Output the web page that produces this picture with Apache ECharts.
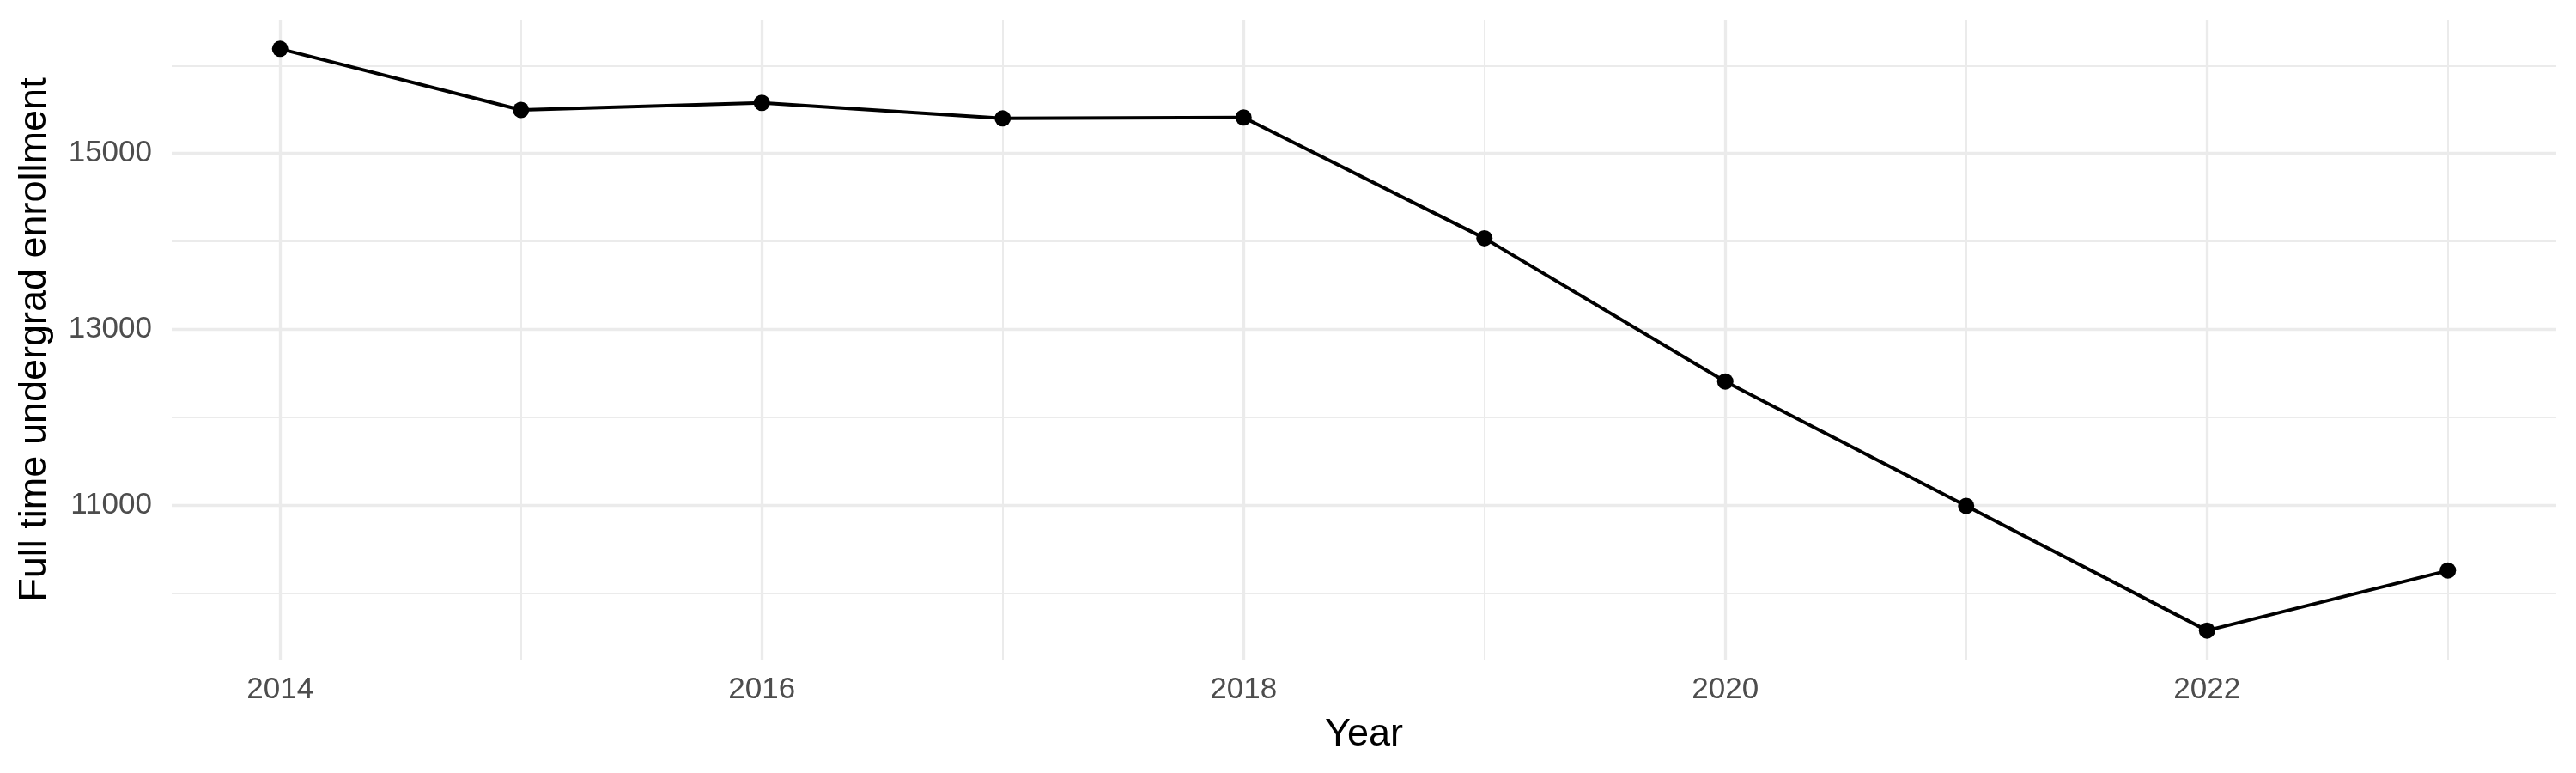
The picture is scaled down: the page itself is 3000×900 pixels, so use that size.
<!DOCTYPE html>
<html>
<head>
    <meta charset="utf-8">
    <title>Full time undergrad enrollment</title>
    <style>
        body {
            margin: 0;
            padding: 0;
            background: #fff;
        }
        #chart {
            width: 3000px;
            height: 900px;
        }
    </style>
</head>
<body>
    <script src="https://cdn.jsdelivr.net/npm/echarts@6/dist/echarts.min.js"></script>
    <div id="chart"></div>
    <script>
        // data
        const years = [2014, 2015, 2016, 2017, 2018, 2019, 2020, 2021, 2022, 2023];
        const enrollment = [16190, 15495, 15575, 15400, 15410, 14035, 12405, 10990, 9572, 10254];
        const xMajorTicks = [2014, 2016, 2018, 2020, 2022];
        const xMinorTicks = [2015, 2017, 2019, 2021, 2023];
        const yMajorTicks = [11000, 13000, 15000];
        const yMinorTicks = [10000, 12000, 14000, 16000];

        const font = '"Liberation Sans", Arial, sans-serif';
        const gridColor = '#ebebeb';
        const xMin = 2013.55, xMax = 2023.45;
        const yMin = 9241, yMax = 16521;

        let chart = echarts.init(document.getElementById('chart'));

        chart.setOption({
            backgroundColor: '#ffffff',
            animation: false,
            grid: { left: 200, right: 23, top: 23, bottom: 132, outerBoundsMode: 'none', containLabel: false },
            xAxis: [
                {
                    type: 'value', min: xMin, max: xMax,
                    name: 'Year', nameLocation: 'middle', nameGap: 65,
                    nameTextStyle: { fontFamily: font, fontSize: 45, color: '#000' },
                    axisLine: { show: false },
                    axisTick: { show: false, customValues: xMajorTicks },
                    axisLabel: {
                        customValues: xMajorTicks, margin: 18,
                        formatter: v => String(v),
                        fontFamily: font, fontSize: 35, color: '#4d4d4d'
                    },
                    splitLine: { show: true, lineStyle: { color: gridColor, width: 3.3 } }
                },
                {
                    type: 'value', min: xMin, max: xMax,
                    axisLine: { show: false },
                    axisTick: { show: false, customValues: xMinorTicks },
                    axisLabel: { show: false },
                    splitLine: { show: true, lineStyle: { color: gridColor, width: 2 } }
                }
            ],
            yAxis: [
                {
                    type: 'value', min: yMin, max: yMax,
                    name: 'Full time undergrad enrollment', nameLocation: 'middle',
                    nameGap: 137, nameRotate: 90,
                    nameTextStyle: { fontFamily: font, fontSize: 45, color: '#000' },
                    axisLine: { show: false },
                    axisTick: { show: false, customValues: yMajorTicks },
                    axisLabel: {
                        customValues: yMajorTicks, margin: 23,
                        formatter: v => String(v),
                        fontFamily: font, fontSize: 35, color: '#4d4d4d'
                    },
                    splitLine: { show: true, lineStyle: { color: gridColor, width: 3.3 } }
                },
                {
                    type: 'value', min: yMin, max: yMax,
                    axisLine: { show: false },
                    axisTick: { show: false, customValues: yMinorTicks },
                    axisLabel: { show: false },
                    splitLine: { show: true, lineStyle: { color: gridColor, width: 2 } }
                }
            ],
            series: [{
                type: 'line',
                xAxisIndex: 0,
                yAxisIndex: 0,
                data: years.map((y, i) => [y, enrollment[i]]),
                symbol: 'circle',
                symbolSize: 19,
                lineStyle: { color: '#000', width: 4 },
                itemStyle: { color: '#000' },
                z: 10
            }]
        });
    </script>
</body>
</html>
